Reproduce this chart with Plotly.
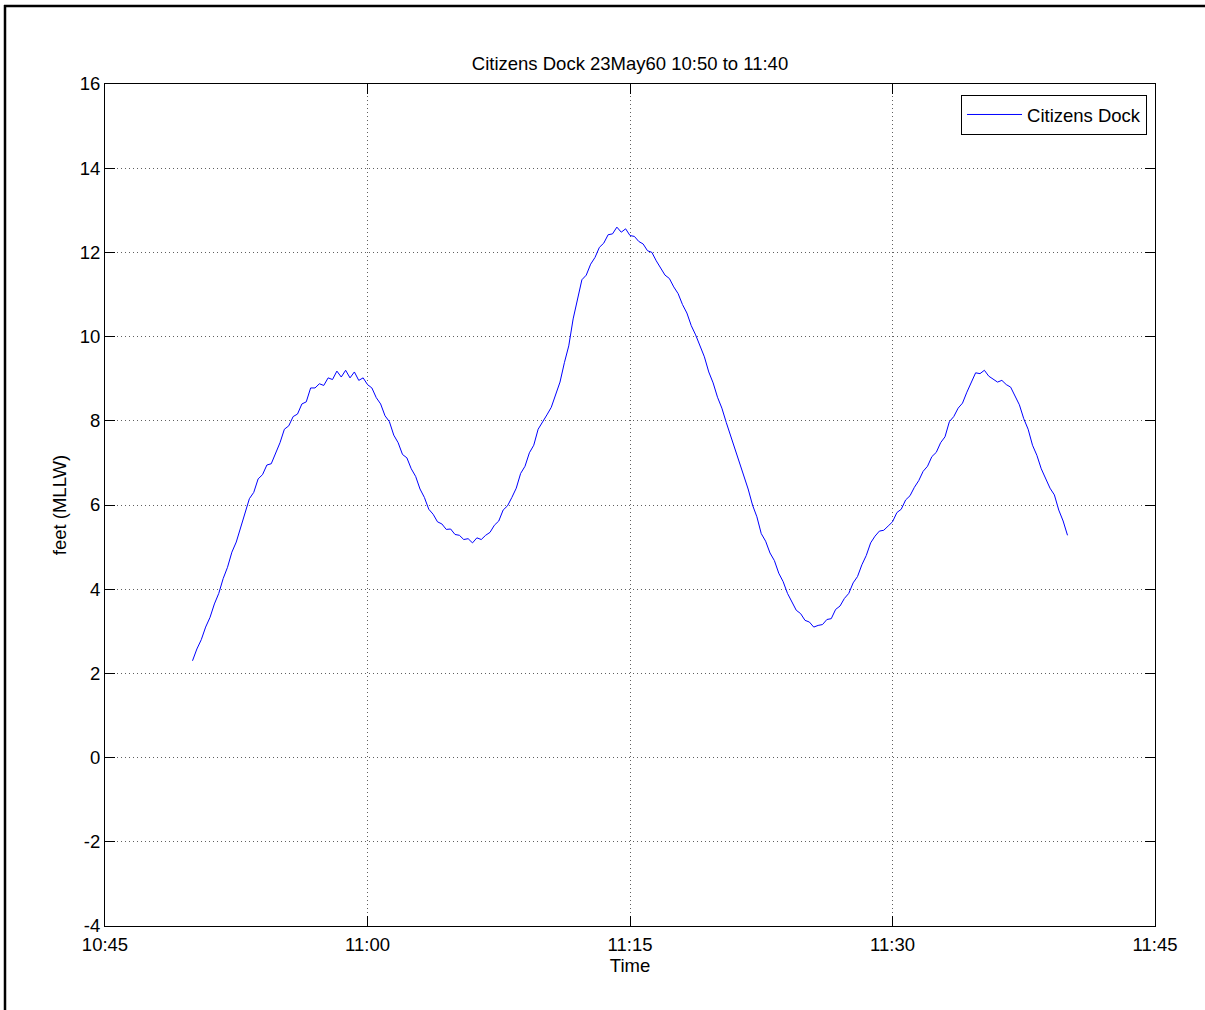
import pandas as pd
import plotly.graph_objects as go

# ---- data ----
start_time = "1960-05-23 10:50:00"
sample_seconds = 15
feet_mllw = [
    2.30, 2.58, 2.80, 3.10,
    3.33, 3.65, 3.90, 4.25,
    4.52, 4.88, 5.12, 5.48,
    5.78, 6.15, 6.30, 6.62,
    6.72, 6.95, 6.98, 7.25,
    7.48, 7.80, 7.88, 8.10,
    8.16, 8.40, 8.45, 8.78,
    8.78, 8.88, 8.84, 9.02,
    8.98, 9.18, 9.04, 9.20,
    9.02, 9.16, 8.96, 9.02,
    8.86, 8.78, 8.55, 8.40,
    8.12, 7.98, 7.66, 7.48,
    7.20, 7.12, 6.86, 6.68,
    6.38, 6.18, 5.90, 5.78,
    5.60, 5.55, 5.42, 5.43,
    5.30, 5.28, 5.18, 5.20,
    5.10, 5.22, 5.18, 5.28,
    5.35, 5.52, 5.62, 5.88,
    5.98, 6.18, 6.40, 6.75,
    6.92, 7.24, 7.42, 7.80,
    7.96, 8.14, 8.32, 8.65,
    8.92, 9.38, 9.78, 10.42,
    10.92, 11.35, 11.46, 11.72,
    11.88, 12.12, 12.22, 12.42,
    12.44, 12.60, 12.48, 12.56,
    12.40, 12.38, 12.26, 12.20,
    12.04, 12.00, 11.80, 11.62,
    11.46, 11.38, 11.18, 11.02,
    10.76, 10.56, 10.26, 10.04,
    9.76, 9.52, 9.16, 8.90,
    8.56, 8.30, 7.96, 7.64,
    7.30, 7.02, 6.68, 6.38,
    6.00, 5.72, 5.32, 5.14,
    4.86, 4.68, 4.38, 4.18,
    3.90, 3.70, 3.50, 3.42,
    3.26, 3.22, 3.10, 3.14,
    3.16, 3.28, 3.30, 3.52,
    3.60, 3.78, 3.90, 4.15,
    4.30, 4.58, 4.80, 5.10,
    5.26, 5.38, 5.40, 5.50,
    5.60, 5.82, 5.90, 6.12,
    6.22, 6.42, 6.58, 6.80,
    6.92, 7.15, 7.25, 7.48,
    7.62, 7.98, 8.10, 8.30,
    8.42, 8.68, 8.92, 9.14,
    9.12, 9.20, 9.06, 9.00,
    8.92, 8.96, 8.86, 8.80,
    8.58, 8.38, 8.05, 7.80,
    7.42, 7.18, 6.86, 6.64,
    6.40, 6.24, 5.88, 5.62,
    5.28,
]
x_tick_values = ["1960-05-23 10:45", "1960-05-23 11:00", "1960-05-23 11:15",
                 "1960-05-23 11:30", "1960-05-23 11:45"]
x_tick_labels = ["10:45", "11:00", "11:15", "11:30", "11:45"]
y_tick_values = [-4, -2, 0, 2, 4, 6, 8, 10, 12, 14, 16]
y_tick_labels = ["-4", "-2", "0", "2", "4", "6", "8", "10", "12", "14", "16"]

times = pd.date_range(start=start_time, periods=len(feet_mllw),
                      freq=f"{sample_seconds}s")

FONT = "Liberation Sans, Arial, Helvetica, sans-serif"
FS = 18.5

fig = go.Figure()
fig.add_trace(go.Scatter(
    x=times, y=feet_mllw, mode="lines", name="Citizens Dock",
    line=dict(color="#0000ff", width=1),
))

axis_common = dict(
    showline=True, linecolor="black", linewidth=1, mirror="ticks",
    ticks="inside", ticklen=10, tickcolor="black", tickwidth=1,
    showgrid=True, gridcolor="#606060", griddash="1px,3px", gridwidth=1,
    zeroline=False,
    tickfont=dict(family=FONT, size=FS, color="black"),
)

fig.update_layout(
    width=1205, height=1010,
    margin=dict(l=105, r=50, t=84, b=84),
    paper_bgcolor="white", plot_bgcolor="white",
    font=dict(family=FONT, size=FS, color="black"),
    title=dict(text="Citizens Dock 23May60 10:50 to 11:40",
               x=0.5, xref="paper", xanchor="center",
               y=1 - 64 / 1010, yref="container", yanchor="middle",
               font=dict(family=FONT, size=FS, color="black")),
    xaxis=dict(
        type="date",
        range=[x_tick_values[0], x_tick_values[-1]],
        tickmode="array", tickvals=x_tick_values, ticktext=x_tick_labels,
        ticklabelstandoff=2,
        title=dict(text="Time", standoff=4,
                   font=dict(family=FONT, size=FS, color="black")),
        **axis_common,
    ),
    yaxis=dict(
        range=[-4, 16],
        tickmode="array", tickvals=y_tick_values, ticktext=y_tick_labels,
        title=dict(text="feet (MLLW)", standoff=8,
                   font=dict(family=FONT, size=FS, color="black")),
        **axis_common,
    ),
    showlegend=True,
    legend=dict(
        x=0.9924, xanchor="right", xref="paper",
        y=0.987, yanchor="top", yref="paper",
        bgcolor="white", bordercolor="black", borderwidth=1,
        itemwidth=55,
        font=dict(family=FONT, size=FS, color="black"),
    ),
    shapes=[
        dict(type="line", xref="paper", yref="paper",
             x0=(4 - 105) / 1050, x1=(1205 - 105) / 1050,
             y0=(926 - 6) / 842, y1=(926 - 6) / 842,
             line=dict(color="black", width=2.5)),
        dict(type="line", xref="paper", yref="paper",
             x0=(5 - 105) / 1050, x1=(5 - 105) / 1050,
             y0=(926 - 5) / 842, y1=(926 - 1010) / 842,
             line=dict(color="black", width=2.5)),
    ],
)

fig.write_html("out.html",
               config={"displayModeBar": False},
               post_script="document.body.style.margin='0';"
                           "document.body.style.overflow='hidden';")
